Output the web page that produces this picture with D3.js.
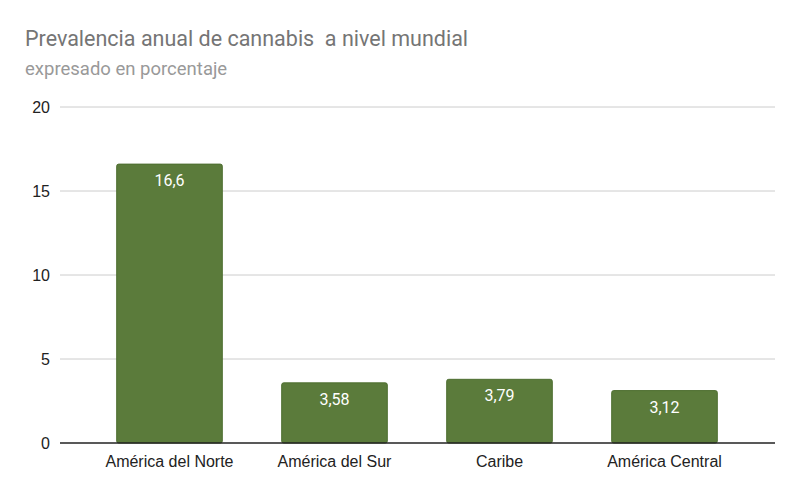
<!DOCTYPE html>
<html>
<head>
<meta charset="utf-8">
<script src="https://cdn.jsdelivr.net/npm/d3@7"></script>
<style>
  body { margin: 0; background: #fff; }
</style>
</head>
<body>
<div id="chart"></div>
<script>
const regions = ['América del Norte', 'América del Sur', 'Caribe', 'América Central']
const prevalence = [16.6, 3.58, 3.79, 3.12]
const yTicks = [0, 5, 10, 15, 20]

const width = 800
const height = 495
const fmt = (v) => String(v).replace('.', ',')

const svg = d3.select('#chart').append('svg')
  .attr('width', width)
  .attr('height', height)

// titulo
svg.append('text')
  .attr('x', 25).attr('y', 46)
  .attr('font-family', 'Roboto, sans-serif')
  .attr('font-size', 21.5)
  .attr('fill', '#757575')
  .attr('xml:space', 'preserve')
  .text('Prevalencia anual de cannabis  a nivel mundial')

svg.append('text')
  .attr('x', 25).attr('y', 75)
  .attr('font-family', 'Roboto, sans-serif')
  .attr('font-size', 18.5)
  .attr('fill', '#999')
  .text('expresado en porcentaje')

const x = d3.scaleBand()
  .domain(regions)
  .range([87, 747])
  .paddingInner(0.36)
  .paddingOuter(0.18)

const y = d3.scaleLinear().domain([0, 20]).range([443, 107])

// grid
svg.append('g')
  .selectAll('line')
  .data(yTicks.filter((d) => d > 0))
  .join('line')
  .attr('x1', 60).attr('x2', 775)
  .attr('y1', (d) => y(d)).attr('y2', (d) => y(d))
  .attr('stroke', '#ccc')
  .attr('stroke-width', 1)

svg.append('g')
  .attr('font-family', 'Arial, "Liberation Sans", sans-serif')
  .attr('font-size', 16)
  .attr('fill', '#222')
  .attr('text-anchor', 'end')
  .selectAll('text')
  .data(yTicks)
  .join('text')
  .attr('x', 50)
  .attr('y', (d) => y(d) + 5.5)
  .text((d) => d)

// barras
svg.append('g')
  .selectAll('rect')
  .data(prevalence)
  .join('rect')
  .attr('x', (d, i) => x(regions[i]))
  .attr('y', (d) => y(d))
  .attr('width', x.bandwidth())
  .attr('height', (d) => y(0) - y(d))
  .attr('rx', 2)
  .attr('fill', '#5b7b3b')
  .attr('stroke', '#4e6e30')
  .attr('stroke-width', 1)

svg.append('g')
  .attr('font-family', 'Roboto, sans-serif')
  .attr('font-size', 16)
  .attr('fill', '#fff')
  .attr('text-anchor', 'middle')
  .selectAll('text')
  .data(prevalence)
  .join('text')
  .attr('x', (d, i) => x(regions[i]) + x.bandwidth() / 2)
  .attr('y', (d) => y(d) + 22)
  .text((d) => fmt(d))

// eje x
svg.append('line')
  .attr('x1', 60).attr('x2', 775)
  .attr('y1', y(0)).attr('y2', y(0))
  .attr('stroke', '#222')
  .attr('stroke-width', 1.3)

svg.append('g')
  .attr('font-family', 'Arial, "Liberation Sans", sans-serif')
  .attr('font-size', 16)
  .attr('fill', '#222')
  .attr('text-anchor', 'middle')
  .selectAll('text')
  .data(regions)
  .join('text')
  .attr('x', (d) => x(d) + x.bandwidth() / 2)
  .attr('y', 467)
  .text((d) => d)
</script>
</body>
</html>
